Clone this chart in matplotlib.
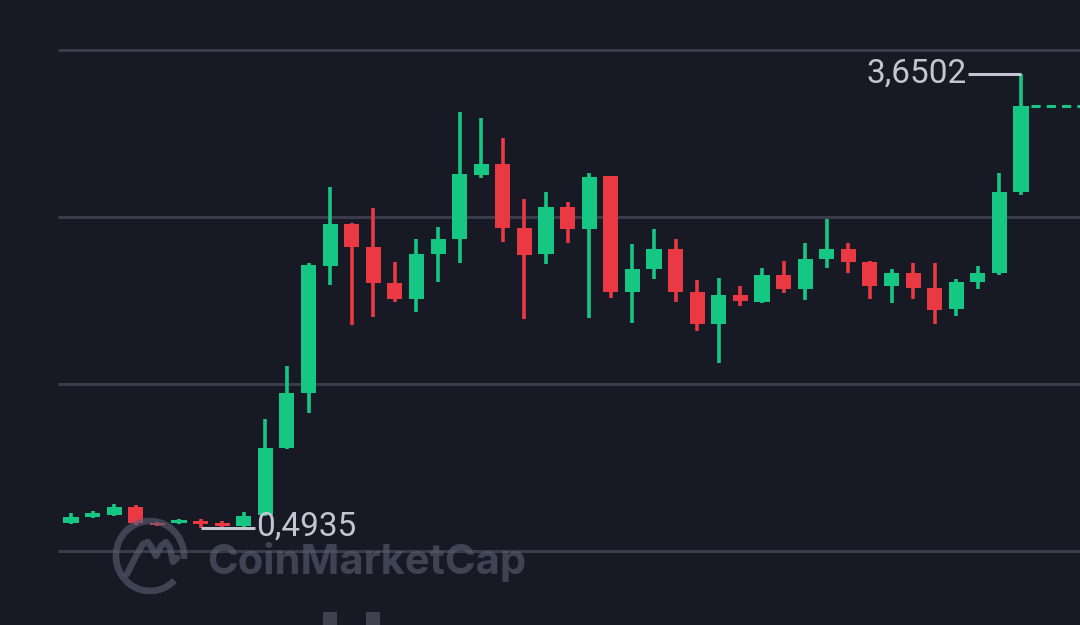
import numpy as np
import matplotlib
matplotlib.use("Agg")
import matplotlib.pyplot as plt
from matplotlib.patches import Arc, Rectangle

# OHLC values (45 candles)
opens = [0.528, 0.570, 0.584, 0.640, 0.528, 0.528, 0.542, 0.528, 0.507, 0.584,
         1.050, 1.432, 2.315, 2.607, 2.447, 2.197, 2.086, 2.399, 2.503, 2.948,
         3.024, 2.579, 2.399, 2.725, 2.573, 2.941, 2.134, 2.294, 2.433, 2.134,
         1.912, 2.114, 2.065, 2.253, 2.155, 2.364, 2.433, 2.343, 2.176, 2.267,
         2.162, 2.016, 2.204, 2.267, 2.830]
highs = [0.598, 0.612, 0.660, 0.653, 0.535, 0.556, 0.556, 0.542, 0.605, 1.251,
         1.620, 2.336, 2.865, 2.612, 2.718, 2.343, 2.503, 2.586, 3.386, 3.344,
         3.205, 2.781, 2.830, 2.760, 2.962, 2.941, 2.468, 2.573, 2.503, 2.218,
         2.232, 2.176, 2.301, 2.350, 2.475, 2.642, 2.475, 2.350, 2.294, 2.336,
         2.336, 2.225, 2.315, 2.962, 3.6502]
lows = [0.521, 0.563, 0.577, 0.514, 0.507, 0.521, 0.4935, 0.500, 0.500, 0.577,
        1.043, 1.293, 2.183, 1.905, 1.961, 2.065, 1.995, 2.204, 2.336, 2.927,
        2.482, 1.947, 2.329, 2.475, 1.954, 2.093, 1.919, 2.225, 2.065, 1.863,
        1.641, 2.037, 2.058, 2.128, 2.079, 2.301, 2.267, 2.086, 2.058, 2.086,
        1.912, 1.968, 2.155, 2.253, 2.809]
closes = [0.570, 0.598, 0.640, 0.528, 0.514, 0.549, 0.521, 0.507, 0.577, 1.050,
          1.432, 2.322, 2.607, 2.447, 2.197, 2.086, 2.399, 2.503, 2.955, 3.024,
          2.579, 2.392, 2.725, 2.573, 2.934, 2.134, 2.294, 2.433, 2.134, 1.912,
          2.114, 2.072, 2.253, 2.155, 2.364, 2.433, 2.343, 2.176, 2.267, 2.162,
          2.009, 2.204, 2.267, 2.830, 3.427]
grid_levels = [0.334, 1.495, 2.656, 3.817]
high_label = "3,6502"
low_label = "0,4935"
watermark = "CoinMarketCap"

BG = "#171924"
GREEN = "#16c784"
RED = "#ea3943"
GRID = "#393c4a"
LABEL = "#c3c6d2"

fig = plt.figure(figsize=(10.8, 6.25), dpi=100, facecolor=BG)
ax = fig.add_axes([0, 0, 1, 1])
ax.set_facecolor(BG)
ax.set_xlim(-3.289, 46.73)
ax.set_ylim(-0.181, 4.165)
ax.axis("off")

# gridlines
for g in grid_levels:
    ax.plot([-0.6, 47], [g, g], color=GRID, lw=2.2, zorder=1, solid_capstyle="butt")

# candles
idx = np.arange(len(opens))
min_body = 0.014
for i in idx:
    o, h, l, c = opens[i], highs[i], lows[i], closes[i]
    col = GREEN if c >= o else RED
    ax.plot([i, i], [l, h], color=col, lw=2.6, zorder=3, solid_capstyle="butt")
    bottom = min(o, c)
    height = max(abs(c - o), min_body)
    ax.bar(i, height, bottom=bottom, width=0.70, color=col, zorder=4, linewidth=0)

# last close dashed line
last = len(opens) - 1
ax.plot([last + 0.45, 47], [closes[last], closes[last]], color=GREEN, lw=2.2,
        dashes=(3, 2), zorder=3)

# high / low markers
hi_i = int(np.argmax(highs))
lo_i = int(np.argmin(lows))
ax.plot([hi_i - 2.45, hi_i], [highs[hi_i], highs[hi_i]], color=LABEL, lw=2.2, zorder=5,
        solid_capstyle="butt")
ax.text(hi_i - 2.5, highs[hi_i], high_label, color=LABEL, fontsize=24, family="Roboto",
        ha="right", va="center", zorder=6)
ax.plot([lo_i, lo_i + 2.5], [lows[lo_i], lows[lo_i]], color=LABEL, lw=2.2, zorder=5,
        solid_capstyle="butt")
ax.text(lo_i + 2.55, lows[lo_i] + 0.012, low_label, color=LABEL, fontsize=24, family="Roboto",
        ha="left", va="center", zorder=6)

# watermark overlay in pixel coordinates
ov = fig.add_axes([0, 0, 1, 1])
ov.set_xlim(0, 1080)
ov.set_ylim(625, 0)
ov.axis("off")
ov.patch.set_alpha(0)
wm = "#5d6073"
ov.add_patch(Arc((150, 556), 68, 70, theta1=45, theta2=365, color=wm, lw=4.8, alpha=0.6))
zx = [127, 136, 143, 148, 152, 156, 161, 166, 170, 173, 177]
zy = [574, 556, 544, 542, 548, 556, 546, 542, 548, 562, 558]
ov.plot(zx, zy, color=wm, lw=4.6, alpha=0.6, solid_joinstyle="round", solid_capstyle="round")
ov.text(207, 574, watermark, color=wm, alpha=0.6, fontsize=30, family="Inter",
        fontweight="bold", ha="left", va="baseline")

# partial bars at the bottom edge
for bx in [323, 366]:
    ov.add_patch(Rectangle((bx, 612), 14, 14, color="#3f4150", lw=0))

fig.savefig("out.png", dpi=100, facecolor=BG)
